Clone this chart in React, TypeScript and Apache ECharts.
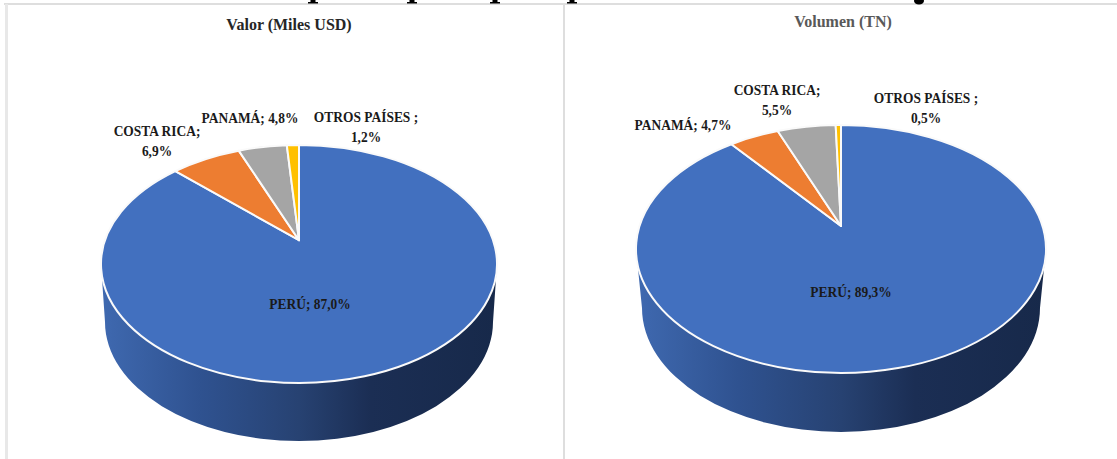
import React, { useEffect, useRef } from "react";
import * as echarts from "echarts";

const valorNames = ["PERÚ", "COSTA RICA", "PANAMÁ", "OTROS PAÍSES "];
const valorValues = [87.0, 6.9, 4.8, 1.2];
const volumenNames = ["PERÚ", "PANAMÁ", "COSTA RICA", "OTROS PAÍSES "];
const volumenValues = [89.3, 4.7, 5.5, 0.5];
const sliceColors = ["#4270BF", "#ED7D31", "#A5A5A5", "#FFC000"];
const titles = ["Valor (Miles USD)", "Volumen (TN)"];

const FONT = '"Liberation Serif", "Times New Roman", serif';

type Pie = {
  names: string[];
  values: number[];
  cx: number; cy: number; rx: number; ry: number; e: number;
  bcy: number; brx: number; bry: number;
  labels: { x: number; y: number; br: boolean }[];
};

const pies: Pie[] = [
  {
    names: valorNames, values: valorValues,
    cx: 299, cy: 264, rx: 198, ry: 119, e: 0.2,
    bcy: 322, brx: 194, bry: 119,
    labels: [
      { x: 310, y: 304, br: false },
      { x: 157, y: 141, br: true },
      { x: 250, y: 118, br: false },
      { x: 366, y: 127, br: true },
    ],
  },
  {
    names: volumenNames, values: volumenValues,
    cx: 841, cy: 249, rx: 205, ry: 124, e: 0.185,
    bcy: 308, brx: 199, bry: 124,
    labels: [
      { x: 851, y: 292, br: false },
      { x: 683, y: 125, br: false },
      { x: 777, y: 100, br: true },
      { x: 926, y: 108, br: true },
    ],
  },
];

function rimPoint(p: Pie, frac: number) {
  const t = frac * Math.PI * 2;
  const u = Math.sin(t), v = Math.cos(t);
  const d = 1 + p.e * v;
  return [
    p.cx + p.rx * (u * Math.sqrt(1 - p.e * p.e)) / d,
    p.cy - p.ry * (v + p.e) / d,
  ];
}

function labelText(name: string, value: number, br: boolean) {
  const pct = value.toFixed(1).replace(".", ",") + "%";
  return `${name};${br ? "\n" : " "}${pct}`;
}

function pieSeries(p: Pie) {
  const total = p.values.reduce((a, b) => a + b, 0);
  const apexY = p.cy - p.ry * p.e;
  return {
    type: "custom",
    coordinateSystem: "none",
    silent: true,
    clip: false,
    data: p.values.map((v) => [v]),
    renderItem: (params: any, api: any) => {
      const i = params.dataIndex;
      const before = p.values.slice(0, i).reduce((a, b) => a + b, 0);
      const value = api.value(0);
      const a = rimPoint(p, before / total);
      const b = rimPoint(p, (before + value) / total);
      const large = value / total > 0.5 ? 1 : 0;
      const d = `M${p.cx} ${apexY}L${a[0]} ${a[1]}A${p.rx} ${p.ry} 0 ${large} 1 ${b[0]} ${b[1]}Z`;
      const children: any[] = [];
      if (i === 0) {
        const lx = p.cx - p.rx, rxx = p.cx + p.rx;
        const side = `M${lx} ${p.cy}L${p.cx - p.brx} ${p.bcy}A${p.brx} ${p.bry} 0 0 0 ${p.cx + p.brx} ${p.bcy}L${rxx} ${p.cy}Z`;
        children.push({
          type: "path",
          shape: { pathData: side },
          style: {
            fill: new echarts.graphic.LinearGradient(0, 0, 1, 0, [
              { offset: 0, color: "#3F69B0" },
              { offset: 0.25, color: "#2F5290" },
              { offset: 0.5, color: "#274272" },
              { offset: 0.68, color: "#1B2E54" },
              { offset: 1, color: "#17294A" },
            ]),
          },
        });
      }
      children.push({
        type: "path",
        shape: { pathData: d },
        style: { fill: sliceColors[i], stroke: "#FAFAFA", lineWidth: 2, lineJoin: "round" },
      });
      return { type: "group", children };
    },
  } as any;
}

export default function App() {
  const ref = useRef<HTMLDivElement>(null);
  useEffect(() => {
    const chart = echarts.init(ref.current!, null, { renderer: "svg" });
    const graphic: any[] = [
      { type: "rect", shape: { x: 4, y: 3, width: 1113, height: 2 }, style: { fill: "#DEDEDE" } },
      { type: "rect", shape: { x: 5, y: 4, width: 3, height: 455 }, style: { fill: "#E8E8E8" } },
      { type: "rect", shape: { x: 563, y: 4, width: 2, height: 455 }, style: { fill: "#DEDEDE" } },
    ];
    // Bottom tips of the page heading that the crop of the source image cuts off.
    [313, 412, 495, 572].forEach((x) => {
      graphic.push({ type: "rect", shape: { x: x - 2.5, y: 0, width: 5, height: 3 }, style: { fill: "#000" } });
      graphic.push({ type: "rect", shape: { x: x - 5, y: 2, width: 10, height: 1.5 }, style: { fill: "#000" } });
    });
    graphic.push({ type: "ellipse", shape: { cx: 919, cy: 1, rx: 5, ry: 3.5 }, style: { fill: "#000" } });
    graphic.push({
      type: "text", x: 289, y: 24,
      style: { text: titles[0], fill: "#262626", font: `bold 16px ${FONT}`, align: "center", verticalAlign: "middle" },
    });
    graphic.push({
      type: "text", x: 843, y: 21,
      style: { text: titles[1], fill: "#595959", font: `bold 16px ${FONT}`, align: "center", verticalAlign: "middle" },
    });
    pies.forEach((p) => {
      p.names.forEach((n, i) => {
        const l = p.labels[i];
        graphic.push({
          type: "text", x: l.x, y: l.y, scaleX: 0.96, z: 50,
          style: {
            text: labelText(n, p.values[i], l.br), fill: "#1A1A1A",
            font: `bold 14px ${FONT}`, lineHeight: 20, align: "center", verticalAlign: "middle",
          },
        });
      });
    });
    chart.setOption({
      animation: false,
      backgroundColor: "#FFFFFF",
      series: pies.map(pieSeries),
      graphic: { elements: graphic },
    });
    return () => chart.dispose();
  }, []);
  return <div ref={ref} style={{ position: "fixed", left: 0, top: 0, width: 1117, height: 459 }} />;
}
